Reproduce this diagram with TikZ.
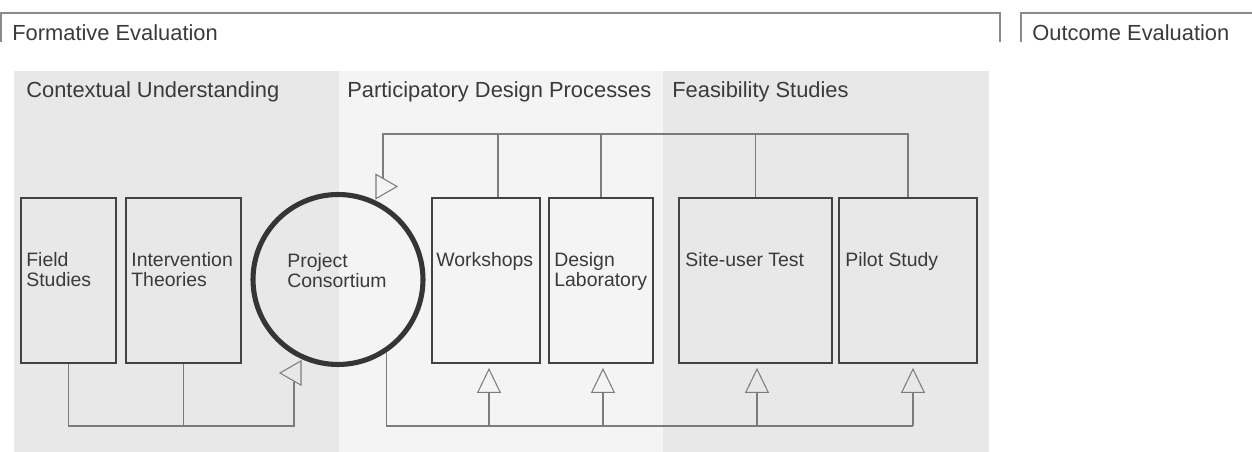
\documentclass[tikz,border=0pt]{standalone}
\usepackage{fontspec}
\setmainfont{Liberation Sans}
\usetikzlibrary{arrows.meta,shapes.geometric,calc}
\definecolor{panelgray}{HTML}{E8E8E8}
\definecolor{panellight}{HTML}{F4F4F4}
\definecolor{boxline}{HTML}{424242}
\definecolor{circline}{HTML}{353535}
\definecolor{connline}{HTML}{7C7C7C}
\definecolor{bracketline}{HTML}{8A8A8A}
\definecolor{textgray}{HTML}{3A3A3A}
\tikzset{
  title/.style={anchor=base west,inner sep=0,text=textgray,font=\fontsize{12.45}{14}\selectfont},
  stage/.style={draw=boxline,line width=1.1pt,minimum width=#1*0.02cm,minimum height=3.3cm,inner sep=0},
  stagetext/.style={anchor=north west,inner sep=0,align=left,text=textgray,font=\fontsize{11.05}{11.35}\selectfont},
  conn/.style={draw=connline,line width=0.6pt},
  bracket/.style={draw=bracketline,line width=0.7pt},
  tipnode/.style={draw=connline,line width=0.6pt,regular polygon,regular polygon sides=3,minimum size=0.56cm,inner sep=0},
  uptip/.style={-{Triangle[open,length=0.5cm,width=0.48cm]}}
}
\begin{document}
\begin{tikzpicture}[x=0.02cm,y=-0.02cm]
\useasboundingbox (0,0) rectangle (1252,452);
\fill[panelgray] (14,71) rectangle (339,452);
\fill[panellight] (339,71) rectangle (663,452);
\fill[panelgray] (663,71) rectangle (989,452);
\draw[bracket] (1,42) |- (1000,13) -- (1000,42);
\draw[bracket] (1021,42) |- (1252,13);

\node[title] (formative) at (12,41) {Formative Evaluation};
\node[title] (outcome) at (1032,41) {Outcome Evaluation};
\node[title] (context) at (26,98) {Contextual Understanding};
\node[title] (particip) at (347,98) {Participatory Design Processes};
\node[title] (feasible) at (672,98) {Feasibility Studies};

\node[stage=95] (field) at (68.5,280.5) {};
\node[stage=115] (theory) at (183.5,280.5) {};
\node[stage=108] (workshop) at (486,280.5) {};
\node[stage=104] (designlab) at (601,280.5) {};
\node[stage=153] (siteuser) at (755.5,280.5) {};
\node[stage=138] (pilot) at (908,280.5) {};
\node[draw=circline,line width=2.9pt,circle,minimum size=3.4cm,inner sep=0] (consort) at (338,279.5) {};

\foreach \n/\t/\dx in {field/{Field\\Studies}/6,theory/{Intervention\\Theories}/6,workshop/{Workshops}/5,
  designlab/{Design\\Laboratory}/6,siteuser/{Site-user Test}/7,pilot/{Pilot Study}/7}
  \node[stagetext] (\n txt) at ($(\n.north west)+(\dx,55)$) {\t};
\node[stagetext] (consorttxt) at (287,253) {Project\\Consortium};

\node[tipnode,shape border rotate=-90] (tintop) at (383,186.5) {};
\node[tipnode,shape border rotate=90] (tinbot) at (294,373) {};
\coordinate (tbus) at (0,134);
\coordinate (bbus) at (0,426);

\draw[conn] (field.south) |- (tinbot |- bbus) -- (tinbot.-90);
\draw[conn] (theory.south) -- (theory.south |- bbus);
\draw[conn] (pilot.north) |- (tintop |- tbus) -- (tintop.90);
\coordinate (wktop) at ([xshift=0.24cm]workshop.north);
\draw[conn] (wktop) -- (wktop |- tbus);
\foreach \n in {designlab,siteuser}
  \draw[conn] (\n.north) -- (\n.north |- tbus);
\draw[conn] (consort.-56) |- ([xshift=0.1cm]pilot.south |- bbus);
\foreach \n/\dx in {workshop/3,designlab/2,siteuser/1.5,pilot/5}{
  \coordinate (\n in) at ([xshift=\dx*0.02cm]\n.south);
  \draw[conn,uptip] (\n in |- bbus) -- ([yshift=-0.08cm]\n in);
}
\end{tikzpicture}
\end{document}
